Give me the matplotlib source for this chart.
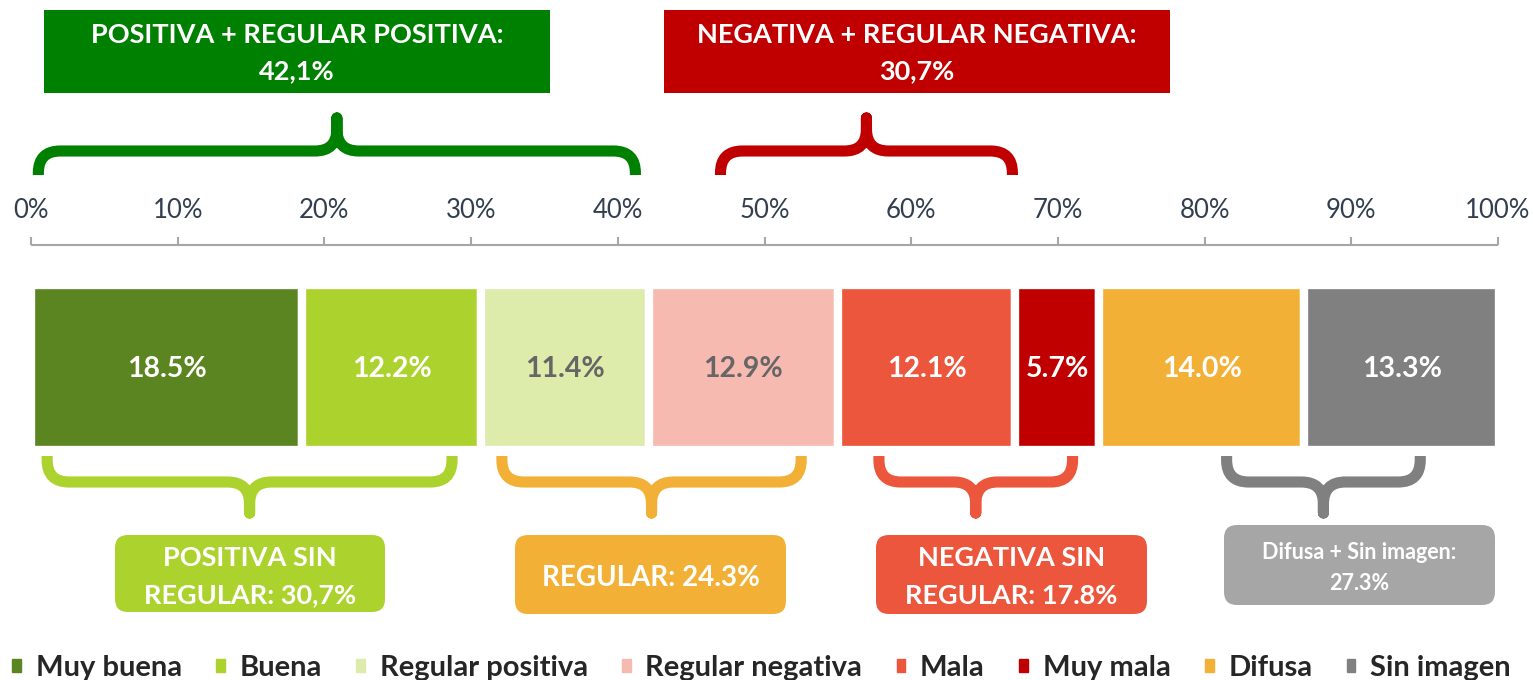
import matplotlib.pyplot as plt
from matplotlib.path import Path
from matplotlib.patches import PathPatch, FancyBboxPatch, Rectangle
import numpy as np

plt.rcParams['font.family'] = ['Lato', 'DejaVu Sans']

# datos
categorias = ["Muy buena", "Buena", "Regular positiva", "Regular negativa",
              "Mala", "Muy mala", "Difusa", "Sin imagen"]
valores = [18.5, 12.2, 11.4, 12.9, 12.1, 5.7, 14.0, 13.3]
colores = ["#5B8520", "#ACD22D", "#DDEBAB", "#F7BAB0",
           "#EB563D", "#C00000", "#F2B136", "#808080"]
color_texto = ["white", "white", "#666666", "#666666",
               "white", "white", "white", "white"]
ticks = [0, 10, 20, 30, 40, 50, 60, 70, 80, 90, 100]

# grupos: (texto, desde, hasta, color)
grupos_arriba = [("POSITIVA + REGULAR POSITIVA:\n42,1%", 0.5, 41.2, "#008000"),
                 ("NEGATIVA + REGULAR NEGATIVA:\n30,7%", 47.0, 66.9, "#C00000")]
grupos_abajo = [("POSITIVA SIN\nREGULAR: 30,7%", 1.1, 28.7, "#ACD22D"),
                ("REGULAR: 24.3%", 32.1, 52.5, "#F2B136"),
                ("NEGATIVA SIN\nREGULAR: 17.8%", 57.8, 71.0, "#EB563D"),
                ("Difusa + Sin imagen:\n27.3%", 81.5, 94.7, "#808080")]

W, H = 1533, 680
X0, K = 31, 14.67  # px del 0% y px por punto porcentual


def px(v):
    return X0 + K * v


fig = plt.figure(figsize=(W / 100, H / 100), dpi=100)

# ejes de la barra: x en %, y en px
ax = fig.add_axes([0, 0, 1, 1])
ax.set_xlim(-X0 / K, (W - X0) / K)
ax.set_ylim(H, 0)
ax.axis("off")

izq = np.concatenate([[0], np.cumsum(valores)[:-1]])
barras = ax.barh(367.5, valores, left=izq, height=165, color=colores,
                 edgecolor="white", linewidth=6)
for b, v, c in zip(barras, valores, color_texto):
    ax.text(b.get_x() + b.get_width() / 2, 369, f"{v:.1f}%", ha="center",
            va="center", color=c, fontsize=20.5, fontweight="bold")

# eje superior
ax.plot([0, 100], [245, 245], color="#A6A6A6", lw=1.5, solid_capstyle="butt")
ax.vlines(ticks, 237, 245, color="#A6A6A6", lw=1.5)
for t in ticks:
    ax.text(t, 211, f"{t}%", ha="center", va="center", fontsize=18.5,
            color="#333F4F")

# capa de anotaciones en px
an = fig.add_axes([0, 0, 1, 1], facecolor="none")
an.set_xlim(0, W)
an.set_ylim(H, 0)
an.axis("off")


def llave(xl, xr, y0, y1, y2, color, r=22):
    xc = (xl + xr) / 2
    d = 1 if y0 > y1 else -1
    verts = [(xl, y0), (xl, y1 + d * r), (xl, y1), (xl + r, y1),
             (xc - r, y1), (xc, y1), (xc, y1 - d * r), (xc, y2),
             (xc, y1 - d * r), (xc, y1), (xc + r, y1),
             (xr - r, y1), (xr, y1), (xr, y1 + d * r), (xr, y0)]
    codes = [Path.MOVETO, Path.LINETO, Path.CURVE3, Path.CURVE3,
             Path.LINETO, Path.CURVE3, Path.CURVE3, Path.LINETO,
             Path.LINETO, Path.CURVE3, Path.CURVE3,
             Path.LINETO, Path.CURVE3, Path.CURVE3, Path.LINETO]
    an.add_patch(PathPatch(Path(verts, codes), fill=False, edgecolor=color,
                           lw=8, capstyle="butt", joinstyle="round"))


# cajas de arriba
cajas_arriba = [(44, 550), (664, 1170)]
for (txt, a, b, c), (x1, x2) in zip(grupos_arriba, cajas_arriba):
    an.add_patch(Rectangle((x1, 10), x2 - x1, 83, color=c, lw=0))
    an.text((x1 + x2) / 2, 53, txt, ha="center", va="center", color="white",
            fontsize=19.5, fontweight="bold", linespacing=1.6)
    llave(px(a), px(b), 175, 151, 118, c)

# cajas de abajo
cajas_abajo = [(115, 385, 535, 612, 19.5), (515, 786, 535, 614, 20),
               (876, 1147, 535, 614, 19.5), (1224, 1495, 525, 605, 15.5)]
for (txt, a, b, c), (x1, x2, y1, y2, fs) in zip(grupos_abajo, cajas_abajo):
    caja = "#A6A6A6" if c == "#808080" else c
    an.add_patch(FancyBboxPatch((x1, y1), x2 - x1, y2 - y1,
                                boxstyle="round,pad=0,rounding_size=13",
                                color=caja, lw=0))
    ls = 1.55 if fs < 17 else 1.7
    an.text((x1 + x2) / 2, (y1 + y2) / 2 + 3, txt, ha="center", va="center",
            color="white", fontsize=fs, fontweight="bold", linespacing=ls)
    llave(px(a), px(b), 456, 482, 513, c)

# leyenda
manejadores = [Rectangle((0, 0), 1, 1, color=c) for c in colores]
fig.legend(manejadores, categorias, loc="lower center", ncol=8,
           bbox_to_anchor=(0.4967, -0.04), frameon=False, handlelength=0.3,
           handleheight=0.3, handletextpad=0.5, columnspacing=1.18,
           prop={"size": 21, "weight": "bold"}, labelcolor="#262626")

fig.savefig("out.png", dpi=100)
